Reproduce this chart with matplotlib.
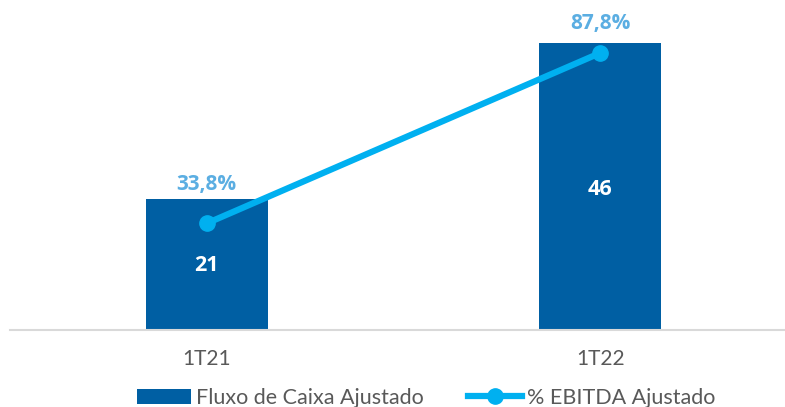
import matplotlib.pyplot as plt
import numpy as np
from matplotlib.lines import Line2D
from matplotlib.patches import Patch

plt.rcParams["font.family"] = ["Lato", "DejaVu Sans"]

categories = ["1T21", "1T22"]
fluxo = [21, 46]
ebitda_pct = [33.8, 87.8]
fluxo_labels = ["21", "46"]
pct_labels = ["33,8%", "87,8%"]

BAR_COLOR = "#005FA3"
LINE_COLOR = "#00B0F0"
PCT_COLOR = "#5BAEE2"
TEXT_GRAY = "#595959"
BOLD_FONT = ["Open Sans", "DejaVu Sans"]

W, H = 785, 407
fig = plt.figure(figsize=(W / 100, H / 100), dpi=100)
ax = fig.add_axes([10 / W, 1 - 330 / H, 775 / W, 330 / H])

x = np.arange(len(categories))
ax.bar(x, fluxo, width=0.31, color=BAR_COLOR, zorder=2)
ax.set_xlim(-0.5, 1.47)
ax.set_ylim(0, 52.9)

for xi, v, lab in zip(x, fluxo, fluxo_labels):
    ax.text(xi, v * 0.49, lab, ha="center", va="center", color="white",
            fontsize=15.5, fontweight="bold", family=BOLD_FONT, zorder=5)

ax2 = ax.twinx()
ax2.set_ylim(0, 104.6)
ax2.plot(x, ebitda_pct, color=LINE_COLOR, lw=4.5, marker="o", markersize=11,
         zorder=4, solid_capstyle="round")

# labels sit above the points, but are kept inside the chart area
for xi, v, lab in zip(x, ebitda_pct, pct_labels):
    px, py = ax2.transData.transform((xi, v))
    ty = min(py + 39, H - 24)
    fig.text(px / W, ty / H, lab, ha="center", va="center", color=PCT_COLOR,
             fontsize=15, fontweight="bold", family=BOLD_FONT)

for a in (ax, ax2):
    for s in ["top", "right", "left"]:
        a.spines[s].set_visible(False)
    a.set_yticks([])
ax.spines["bottom"].set_color("#D9D9D9")
ax.spines["bottom"].set_linewidth(1.5)
ax2.spines["bottom"].set_visible(False)

ax.set_xticks(x)
ax.set_xticklabels(categories, fontsize=15, color=TEXT_GRAY)
ax.tick_params(axis="x", length=0, pad=14)

handles = [
    Patch(facecolor=BAR_COLOR, edgecolor="none"),
    Line2D([], [], color=LINE_COLOR, lw=4.5, marker="o", markersize=11),
]
fig.legend(handles, ["Fluxo de Caixa Ajustado", "% EBITDA Ajustado"],
           loc="center", bbox_to_anchor=(426 / W, 1 - 398 / H), ncol=2,
           frameon=False, fontsize=15.5, labelcolor=TEXT_GRAY,
           handlelength=2.5, handletextpad=0.23, columnspacing=2.05)

fig.savefig("out.png", dpi=100)
